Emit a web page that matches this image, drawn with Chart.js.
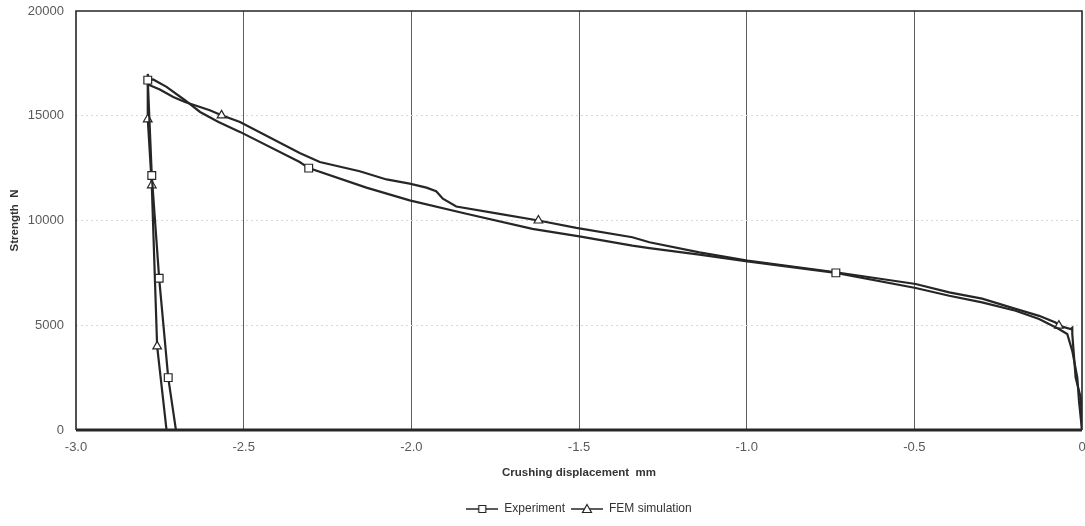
<!DOCTYPE html>
<html>
<head>
<meta charset="utf-8">
<script src="https://cdn.jsdelivr.net/npm/chart.js@4/dist/chart.umd.min.js"></script>
<style>
  html, body { margin: 0; padding: 0; background: #fff; }
  #wrap { width: 1085px; height: 526px; }
</style>
</head>
<body>
<div id="wrap"><canvas id="crushChart"></canvas></div>
<script>
// Experiment curve (square markers), right end first
const expX = [0, -0.009, -0.014, -0.029, -0.044, -0.069, -0.128, -0.198, -0.298, -0.396, -0.496, -0.734,
    -0.998, -1.141, -1.290, -1.341, -1.499, -1.639, -1.836, -2.005, -2.134, -2.306, -2.333, -2.511,
    -2.575, -2.630, -2.675, -2.730, -2.770, -2.786, -2.774, -2.752, -2.725, -2.702];
const expY = [0, 1390, 2500, 3780, 4580, 4820, 5300, 5690, 6090, 6410, 6780, 7500,
    8050, 8370, 8680, 8800, 9240, 9600, 10320, 10960, 11570, 12500, 12790, 14230,
    14700, 15180, 15740, 16380, 16730, 16700, 12150, 7240, 2500, 0];
const expMark = [0, 0, 0, 0, 0, 0, 0, 0, 0, 0, 0, 1,
    0, 0, 0, 0, 0, 0, 0, 0, 0, 1, 0, 0,
    0, 0, 0, 0, 0, 1, 1, 1, 1, 0];

// FEM simulation curve (triangle markers)
const femX = [0, -0.001, -0.004, -0.019, -0.029, -0.029, -0.034, -0.069, -0.079, -0.128, -0.198, -0.298,
    -0.396, -0.496, -0.734, -0.998, -1.141, -1.290, -1.341, -1.508, -1.621, -1.737, -1.866, -1.906,
    -1.926, -1.955, -2.005, -2.074, -2.154, -2.273, -2.333, -2.511, -2.566, -2.601, -2.675, -2.710,
    -2.750, -2.780, -2.786, -2.786, -2.774, -2.758, -2.730];
const femY = [0, 770, 1550, 2500, 4590, 4880, 4820, 4980, 5130, 5450, 5780, 6270,
    6570, 6970, 7530, 8090, 8480, 8960, 9200, 9650, 10000, 10320, 10670, 11040,
    11400, 11570, 11760, 11960, 12350, 12790, 13220, 14700, 15020, 15260, 15660, 15900,
    16250, 16460, 16990, 14830, 11680, 3990, 0];
const femMark = [0, 0, 0, 0, 0, 0, 0, 1, 0, 0, 0, 0,
    0, 0, 0, 0, 0, 0, 0, 0, 1, 0, 0, 0,
    0, 0, 0, 0, 0, 0, 0, 0, 1, 0, 0, 0,
    0, 0, 0, 1, 1, 1, 0];

const seriesNames = ['Experiment', 'FEM simulation'];
const xTicks = [-3.0, -2.5, -2.0, -1.5, -1.0, -0.5, 0];
const yTicks = [0, 5000, 10000, 15000, 20000];

const ink = '#262626';

function toPoints(xs, ys) {
    return xs.map((x, i) => ({ x: x, y: ys[i] }));
}

// little legend swatch: line with the marker in the middle
function swatch(style) {
    const c = document.createElement('canvas');
    c.width = 32; c.height = 12;
    const g = c.getContext('2d');
    g.strokeStyle = ink;
    g.lineWidth = 1.5;
    g.beginPath(); g.moveTo(0, 6); g.lineTo(32, 6); g.stroke();
    g.fillStyle = '#fff';
    g.lineWidth = 1.2;
    g.beginPath();
    if (style === 'rect') {
        g.rect(12.5, 2.5, 7, 7);
    } else {
        g.moveTo(16, 1.5); g.lineTo(20.5, 9.5); g.lineTo(11.5, 9.5); g.closePath();
    }
    g.fill(); g.stroke();
    return c;
}

const frame = {
    id: 'frame',
    beforeDraw(chart) {
        // center the legend under the plot, not the whole canvas
        const a = chart.chartArea;
        if (chart.legend) {
            chart.legend.left = a.left;
            chart.legend.right = a.right;
        }
    },
    afterDatasetsDraw(chart) {
        const a = chart.chartArea;
        const ctx = chart.ctx;
        ctx.save();
        ctx.strokeStyle = ink;
        ctx.lineWidth = 1.6;
        ctx.beginPath();
        ctx.moveTo(a.left, a.bottom);
        ctx.lineTo(a.left, a.top);
        ctx.lineTo(a.right, a.top);
        ctx.lineTo(a.right, a.bottom);
        ctx.stroke();
        ctx.lineWidth = 3;
        ctx.beginPath();
        ctx.moveTo(a.left, a.bottom);
        ctx.lineTo(a.right, a.bottom);
        ctx.stroke();
        ctx.restore();
    }
};

const markers = ['rect', 'triangle'];
const swatches = markers.map(swatch);

new Chart(document.getElementById('crushChart'), {
    type: 'scatter',
    data: {
        datasets: [
            {
                label: seriesNames[0],
                data: toPoints(expX, expY),
                showLine: true,
                borderColor: ink,
                borderWidth: 2.2,
                pointStyle: 'rect',
                pointRadius: ctx => expMark[ctx.dataIndex] ? 5.5 : 0,
                pointBackgroundColor: '#fff',
                pointBorderColor: ink,
                pointBorderWidth: 1.2
            },
            {
                label: seriesNames[1],
                data: toPoints(femX, femY),
                showLine: true,
                borderColor: ink,
                borderWidth: 2.2,
                pointStyle: 'triangle',
                pointRadius: ctx => femMark[ctx.dataIndex] ? 5 : 0,
                pointBackgroundColor: '#fff',
                pointBorderColor: ink,
                pointBorderWidth: 1.2
            }
        ]
    },
    options: {
        responsive: true,
        maintainAspectRatio: false,
        animation: false,
        layout: { padding: { left: 0, right: 3, top: 11, bottom: 1 } },
        scales: {
            x: {
                type: 'linear',
                min: -3,
                max: 0,
                afterBuildTicks: s => { s.ticks = xTicks.map(v => ({ value: v })); },
                afterFit: s => { s.height = 67; s.paddingLeft = 0; s.paddingRight = 0; },
                ticks: {
                    padding: 10,
                    color: '#5a5a5a',
                    font: { family: 'Liberation Sans', size: 13 },
                    callback: v => v === 0 ? '0' : v.toFixed(1)
                },
                grid: {
                    drawTicks: false,
                    color: c => (c.tick && c.tick.value > -3 && c.tick.value < 0) ? '#5e5e5e' : 'rgba(0,0,0,0)',
                    lineWidth: 1
                },
                border: { display: false },
                title: {
                    display: true,
                    text: 'Crushing displacement  mm',
                    color: '#333',
                    font: { family: 'Liberation Sans', size: 11.5, weight: 'bold' },
                    padding: { top: 0, bottom: 17 }
                }
            },
            y: {
                min: 0,
                max: 20000,
                afterBuildTicks: s => { s.ticks = yTicks.map(v => ({ value: v })); },
                afterFit: s => { s.width = 76; s.paddingTop = 0; s.paddingBottom = 0; },
                ticks: {
                    padding: 12,
                    color: '#5a5a5a',
                    font: { family: 'Liberation Sans', size: 13 },
                    callback: v => String(v)
                },
                grid: {
                    drawTicks: false,
                    color: c => (c.tick && c.tick.value > 0 && c.tick.value < 20000) ? '#d8d8d8' : 'rgba(0,0,0,0)',
                    lineWidth: 1
                },
                border: { display: false, dash: [2, 3] },
                title: {
                    display: true,
                    text: 'Strength  N',
                    color: '#333',
                    font: { family: 'Liberation Sans', size: 11.5, weight: 'bold' },
                    padding: { top: 8, bottom: 0 }
                }
            }
        },
        plugins: {
            legend: {
                position: 'bottom',
                labels: {
                    usePointStyle: true,
                    pointStyleWidth: 32,
                    padding: 6,
                    color: '#333',
                    font: { family: 'Liberation Sans', size: 12 },
                    generateLabels: chart => {
                        const items = Chart.defaults.plugins.legend.labels.generateLabels(chart);
                        items.forEach((it, i) => { it.pointStyle = swatches[i]; });
                        return items;
                    }
                }
            },
            tooltip: { enabled: false }
        }
    },
    plugins: [frame]
});
</script>
</body>
</html>
